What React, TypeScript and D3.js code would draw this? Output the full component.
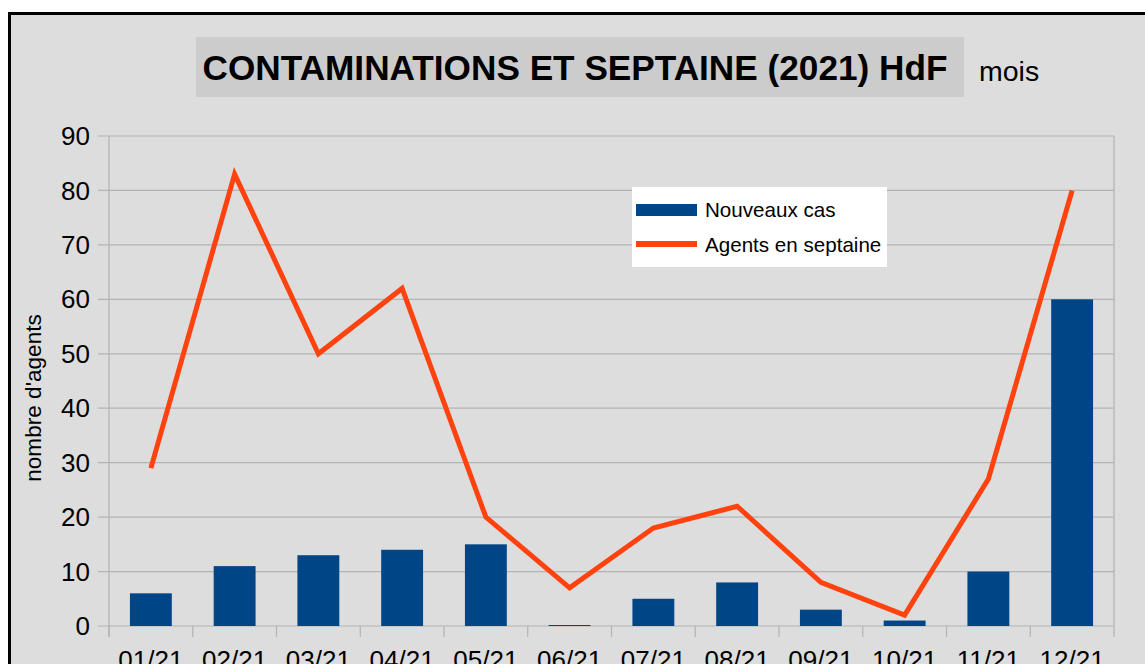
import React from "react";
import * as d3 from "d3";

const months = ["01/21", "02/21", "03/21", "04/21", "05/21", "06/21", "07/21", "08/21", "09/21", "10/21", "11/21", "12/21"];
const nouveauxCas = [6, 11, 13, 14, 15, 0, 5, 8, 3, 1, 10, 60];
const agentsSeptaine = [29, 83, 50, 62, 20, 7, 18, 22, 8, 2, 27, 80];
const yTicks = [0, 10, 20, 30, 40, 50, 60, 70, 80, 90];

const W = 1145;
const H = 664;
const plot = { left: 109, right: 1114, top: 136, bottom: 626 };
const FONT = "'Liberation Sans', Arial, sans-serif";
const BLUE = "#004586";
const ORANGE = "#ff420e";
const GRID = "#b3b3b3";

const App = () => {
  const x = d3.scaleBand<string>()
    .domain(months)
    .range([plot.left, plot.right])
    .paddingInner(0.5)
    .paddingOuter(0.25);

  const band = d3.scaleBand<string>()
    .domain(months)
    .range([plot.left, plot.right]);

  const y = d3.scaleLinear().domain([0, 90]).range([plot.bottom, plot.top]);

  const line = d3.line<number>()
    .x((_, i) => (band(months[i]) as number) + band.bandwidth() / 2)
    .y(d => y(d));

  return (
    <svg width={W} height={H} style={{ position: "absolute", left: 0, top: 0 }} fontFamily={FONT}>
      <rect x={0} y={0} width={W} height={H} fill="#ffffff" />
      <rect x={9.5} y={13.5} width={W + 20} height={H + 20} fill="#dddddd" stroke="#000" strokeWidth={3} />

      {/* titre */}
      <rect x={196} y={37} width={768} height={60} fill="#cccccc" />
      <text x={575} y={80} textAnchor="middle" fontSize={35.2} fontWeight="bold" fill="#000">
        CONTAMINATIONS ET SEPTAINE (2021) HdF
      </text>
      <text x={979} y={81} fontSize={28.5} fill="#000">mois</text>

      {/* grille */}
      {yTicks.map(t => (
        <g key={t}>
          <line x1={98} x2={plot.right} y1={y(t)} y2={y(t)} stroke={GRID} strokeWidth={1.2} />
          <text x={90} y={y(t)} dy="0.35em" textAnchor="end" fontSize={26} fill="#000">{t}</text>
        </g>
      ))}
      <line x1={plot.left} x2={plot.left} y1={plot.top} y2={plot.bottom + 11} stroke={GRID} strokeWidth={1.2} />
      <line x1={plot.right} x2={plot.right} y1={plot.top} y2={plot.bottom + 11} stroke={GRID} strokeWidth={1.2} />
      {months.map((m, i) => (
        <line key={m} x1={plot.left + i * band.bandwidth()} x2={plot.left + i * band.bandwidth()}
          y1={plot.bottom} y2={plot.bottom + 11} stroke={GRID} strokeWidth={1.2} />
      ))}

      {/* barres */}
      {nouveauxCas.map((v, i) => (
        <rect key={months[i]} x={x(months[i])} y={y(v) - (v === 0 ? 1 : 0)} width={x.bandwidth()}
          height={Math.max(1, y(0) - y(v))} fill={BLUE} />
      ))}

      {/* ligne */}
      <path d={line(agentsSeptaine) || ""} fill="none" stroke={ORANGE} strokeWidth={5} strokeLinejoin="miter" />

      {/* étiquettes x */}
      {months.map(m => (
        <text key={m} x={(band(m) as number) + band.bandwidth() / 2} y={669} textAnchor="middle" fontSize={26} fill="#000">{m}</text>
      ))}

      {/* titre axe y */}
      <text transform="translate(41,398) rotate(-90)" textAnchor="middle" fontSize={22.6} fill="#000">nombre d'agents</text>

      {/* légende */}
      <rect x={632} y={187} width={255} height={80} fill="#ffffff" />
      <rect x={636} y={204} width={61} height={12} fill={BLUE} />
      <line x1={636} x2={697} y1={244} y2={244} stroke={ORANGE} strokeWidth={6} />
      <text x={705} y={217} fontSize={20.6} fill="#000">Nouveaux cas</text>
      <text x={705} y={252} fontSize={20.6} fill="#000">Agents en septaine</text>
    </svg>
  );
};

export default App;
